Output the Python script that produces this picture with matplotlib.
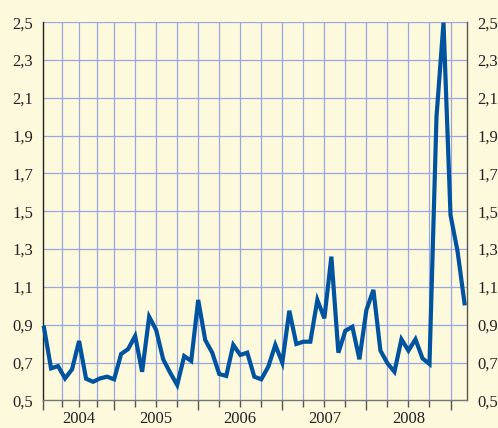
import numpy as np
import matplotlib
matplotlib.use('Agg')
import matplotlib.pyplot as plt
from matplotlib.ticker import FixedLocator, FuncFormatter
import matplotlib.transforms as mtransforms

# ------------------------------------------------
# DATA (monthly, Mar 2004 - Mar 2009)
# ------------------------------------------------

values = [0.884, 0.669, 0.681, 0.616, 0.664, 0.814, 0.614, 0.598, 0.616, 0.625,
          0.611, 0.745, 0.771, 0.840, 0.651, 0.942, 0.872, 0.717, 0.646, 0.581,
          0.734, 0.708, 1.031, 0.819, 0.752, 0.639, 0.629, 0.793, 0.740, 0.752,
          0.625, 0.611, 0.678, 0.793, 0.699, 0.974, 0.798, 0.810, 0.810, 1.031,
          0.934, 1.260, 0.752, 0.868, 0.889, 0.717, 0.978, 1.084, 0.763, 0.696,
          0.651, 0.823, 0.763, 0.823, 0.722, 0.692, 2.000, 2.498, 1.480, 1.290,
          1.013]

year_labels = ['2004', '2005', '2006', '2007', '2008']
year_label_pos = [4.9, 16, 28, 40, 52]
year_bounds = [-0.1, 10, 22, 34, 46, 58]
quarter_ticks = [2.5, 5, 7.5, 13, 16, 19, 25, 28, 31, 37, 40, 43, 49, 52, 55]
y_ticks = [0.5, 0.7, 0.9, 1.1, 1.3, 1.5, 1.7, 1.9, 2.1, 2.3, 2.5]

# ------------------------------------------------
# STYLE
# ------------------------------------------------

bg = '#fdf9dc'
grid_col = '#9aa6e0'
line_col = '#00539f'

plt.rcParams['font.family'] = ['Liberation Serif', 'DejaVu Serif']

fig = plt.figure(figsize=(4.98, 4.28), dpi=100, facecolor=bg)
ax = fig.add_axes([0.087, 0.0647, 0.850, 0.8833], facecolor=bg)

x = np.arange(len(values))
ax.plot(x, values, color=line_col, lw=3.0, solid_joinstyle='miter',
        zorder=3, clip_on=False)

ax.set_xlim(-0.1, 60.3)
ax.set_ylim(0.5, 2.5)

# grid
for gx in year_bounds[1:] + quarter_ticks:
    ax.axvline(gx, color=grid_col, lw=0.9, zorder=1)
for gy in y_ticks[1:]:
    ax.axhline(gy, color=grid_col, lw=0.9, zorder=1)

# spines
ax.spines['top'].set_visible(False)
ax.spines['left'].set_color('#222222')
ax.spines['left'].set_linewidth(1.0)
ax.spines['right'].set_color('#555555')
ax.spines['right'].set_linewidth(1.0)
ax.spines['bottom'].set_color('#777777')
ax.spines['bottom'].set_linewidth(1.0)

# y ticks both sides
ax.yaxis.set_major_locator(FixedLocator(y_ticks))
ax.yaxis.set_major_formatter(FuncFormatter(lambda v, p: f'{v:.1f}'.replace('.', ',')))
ax.tick_params(axis='y', which='both', left=False, right=False,
               labelleft=True, labelright=True, labelsize=12,
               colors='#222222', pad=4)

# x ticks
ax.xaxis.set_major_locator(FixedLocator(year_bounds))
ax.xaxis.set_minor_locator(FixedLocator(quarter_ticks))
ax.tick_params(axis='x', which='major', length=7, width=1.0, color='#555555',
               labelbottom=False)
ax.tick_params(axis='x', which='minor', length=5, width=1.0, color='#555555')

trans = mtransforms.blended_transform_factory(ax.transData, ax.transAxes)
for lbl, px in zip(year_labels, year_label_pos):
    ax.text(px, -0.028, lbl, transform=trans, ha='center', va='top',
            fontsize=12, color='#222222')

fig.savefig('out.png', dpi=100, facecolor=bg)
